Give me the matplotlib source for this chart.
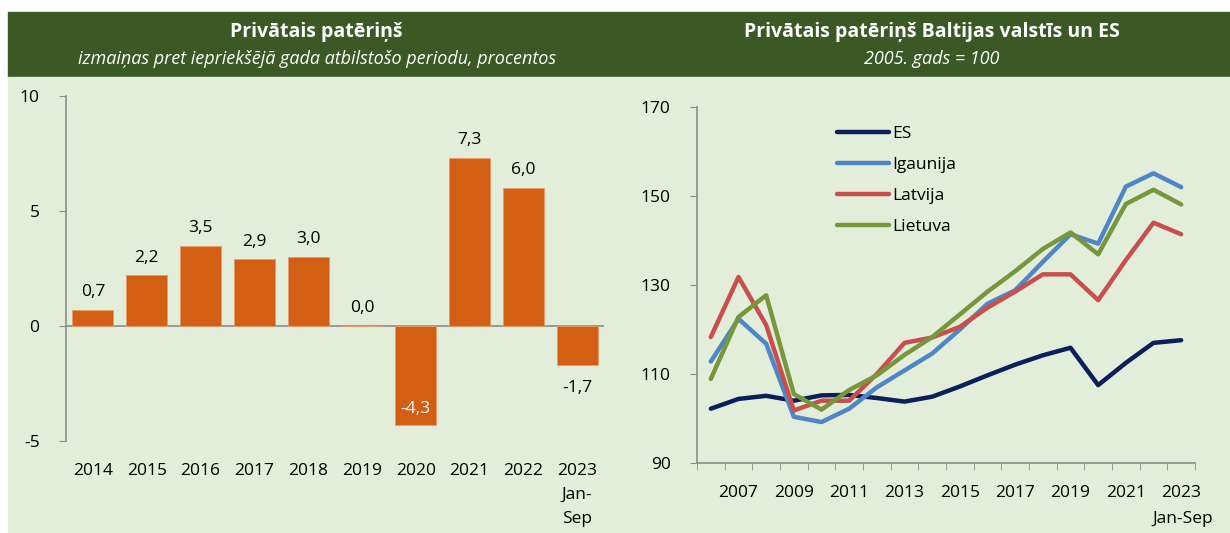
import matplotlib
matplotlib.use("Agg")
import matplotlib.pyplot as plt
from matplotlib.patches import Rectangle
import numpy as np

plt.rcParams["font.family"] = ["Open Sans", "DejaVu Sans"]
plt.rcParams["axes.unicode_minus"] = False

# ---- left panel data: annual change, %
bar_years = ["2014", "2015", "2016", "2017", "2018", "2019", "2020", "2021", "2022", "2023\nJan-\nSep"]
bar_values = [0.7, 2.2, 3.5, 2.9, 3.0, 0.0, -4.3, 7.3, 6.0, -1.7]

# ---- right panel data: index 2005 = 100
line_years = list(range(2006, 2024))
es = [102.2, 104.4, 105.1, 104.0, 105.2, 105.3, 104.6, 103.8, 104.9, 107.2,
      109.7, 112.1, 114.2, 115.9, 107.5, 112.5, 117.0, 117.6]
igaunija = [112.8, 122.4, 116.8, 100.4, 99.2, 102.2, 107.0, 110.8, 114.6, 120.0,
            125.8, 128.8, 135.2, 141.4, 139.3, 152.1, 155.1, 152.0]
latvija = [118.3, 131.8, 121.0, 101.8, 104.0, 104.0, 110.0, 117.0, 118.2, 120.6,
           124.9, 128.5, 132.4, 132.4, 126.6, 135.6, 144.0, 141.4]
lietuva = [108.9, 122.8, 127.7, 105.5, 102.0, 106.4, 109.7, 114.3, 118.3, 123.4,
           128.5, 133.1, 138.1, 141.8, 136.9, 148.2, 151.4, 148.1]

W, H = 1230, 533
HEADER = "#3A5925"
BG = "#E2EED9"
BAR = "#D25F14"
AXC = "#8C8C8C"
FS = 12.5

fig = plt.figure(figsize=(W / 100, H / 100), dpi=100)
fig.patch.set_facecolor("white")


def px(x0, y0, x1, y1):
    # pixel box (top-left origin) -> figure fraction [l, b, w, h]
    return [x0 / W, (H - y1) / H, (x1 - x0) / W, (y1 - y0) / H]


l, b, w, h = px(8, 12, 1230, 77)
fig.patches.append(Rectangle((l, b), w, h, transform=fig.transFigure, color=HEADER, zorder=-2))
l, b, w, h = px(8, 77, 1230, 533)
fig.patches.append(Rectangle((l, b), w, h, transform=fig.transFigure, color=BG, zorder=-2))

fig.text(316 / W, 1 - 32 / H, "Privātais patēriņš", color="white", fontsize=14,
         fontweight="bold", ha="center", va="center")
fig.text(317 / W, 1 - 59 / H, "izmaiņas pret iepriekšējā gada atbilstošo periodu, procentos",
         color="white", fontsize=13, style="italic", ha="center", va="center")
fig.text(932 / W, 1 - 32 / H, "Privātais patēriņš Baltijas valstīs un ES", color="white",
         fontsize=14, fontweight="bold", ha="center", va="center")
fig.text(932 / W, 1 - 59 / H, "2005. gads = 100", color="white", fontsize=13,
         style="italic", ha="center", va="center")

# ---------------------------------------------------------------- bars
ax1 = fig.add_axes(px(66, 96, 604, 441))
ax1.set_facecolor("none")
x = np.arange(len(bar_values))
ax1.bar(x, bar_values, width=0.76, color=BAR, edgecolor="#E89A6A", linewidth=0.6, zorder=2)
ax1.axhline(0, color=AXC, lw=1.2, zorder=1)
ax1.set_xlim(-0.5, len(bar_values) - 0.5)
ax1.set_ylim(-5, 10)
ax1.set_yticks([-5, 0, 5, 10])
ax1.set_xticks(x)
ax1.set_xticklabels(bar_years, linespacing=1.65)
ax1.tick_params(axis="x", length=0, pad=16, labelsize=FS)
ax1.tick_params(axis="y", length=5, color=AXC, labelsize=FS, pad=14)
for s in ["top", "right", "bottom"]:
    ax1.spines[s].set_visible(False)
ax1.spines["left"].set_color(AXC)
ax1.spines["left"].set_linewidth(1.2)
for xi, v in zip(x, bar_values):
    txt = f"{v:.1f}".replace(".", ",")
    if v >= 0:
        ax1.annotate(txt, (xi, v), xytext=(0, 7), textcoords="offset points",
                     ha="center", va="bottom", fontsize=FS)
    elif v < -3:
        ax1.annotate(txt, (xi, v), xytext=(0, 6), textcoords="offset points",
                     ha="center", va="bottom", fontsize=FS, color="white")
    else:
        ax1.annotate(txt, (xi, v), xytext=(0, -11), textcoords="offset points",
                     ha="center", va="top", fontsize=FS)

# ---------------------------------------------------------------- lines
ax2 = fig.add_axes(px(697, 107, 1195, 463))
ax2.set_facecolor("none")
xi = np.arange(len(line_years))
series = [("ES", es, "#0A1F5C"), ("Igaunija", igaunija, "#4F86C6"),
          ("Latvija", latvija, "#C94F4F"), ("Lietuva", lietuva, "#76973A")]
for name, vals, col in series:
    ax2.plot(xi, vals, color=col, lw=3.2, label=name, solid_capstyle="round")
ax2.set_xlim(-0.5, len(line_years) - 0.5)
ax2.set_ylim(90, 170)
ax2.set_yticks([90, 110, 130, 150, 170])
ax2.set_xticks(np.arange(-0.5, len(line_years)), minor=True)
major = [i for i, yr in enumerate(line_years) if yr % 2 == 1]
ax2.set_xticks(major)
ax2.set_xticklabels([str(line_years[i]) for i in major])
ax2.tick_params(axis="x", which="major", length=0, pad=16, labelsize=FS)
ax2.tick_params(axis="x", which="minor", length=5, color=AXC)
ax2.tick_params(axis="y", length=5, color=AXC, labelsize=FS, pad=14)
for s in ["top", "right"]:
    ax2.spines[s].set_visible(False)
for s in ["left", "bottom"]:
    ax2.spines[s].set_color(AXC)
    ax2.spines[s].set_linewidth(1.2)
ax2.annotate("Jan-Sep", (xi[-1], 90), xytext=(1, -40), textcoords="offset points",
             ha="center", va="center", fontsize=FS, annotation_clip=False)
leg = ax2.legend(loc="upper left", bbox_to_anchor=(0.25, 0.99), frameon=False,
                 fontsize=FS, handlelength=3.0, labelspacing=0.85, handletextpad=0.2)

fig.savefig("out.png", dpi=100)
